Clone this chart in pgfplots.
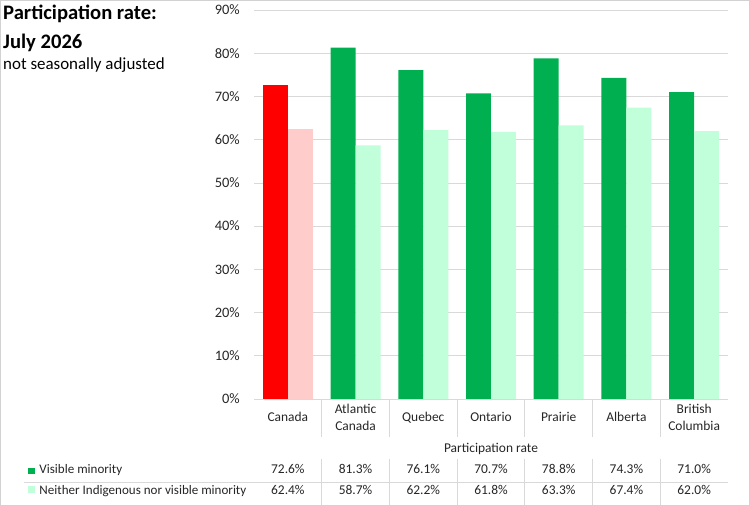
\documentclass[border=0pt]{standalone}
\usepackage{fontspec}
\setmainfont{Carlito}
\usepackage{pgfplots}
\pgfplotsset{compat=1.18}
\definecolor{vm}{RGB}{0,176,80}
\definecolor{nvm}{RGB}{193,255,218}
\definecolor{cred}{RGB}{255,0,0}
\definecolor{cpink}{RGB}{255,204,204}
\definecolor{gridc}{RGB}{217,217,217}
\definecolor{txt}{RGB}{38,38,38}
\newcommand{\lab}{\fontsize{13.5}{16}\selectfont}
\begin{document}
\begin{tikzpicture}
\useasboundingbox (0,0) rectangle (750bp,506bp);
\draw[gray!35, line width=1bp] (0.5bp,0.5bp) rectangle (749.5bp,505.5bp);
\begin{axis}[
  at={(254bp,107bp)}, anchor=south west,
  scale only axis, width=474bp, height=389bp,
  xmin=-0.5, xmax=6.5, ymin=0, ymax=90,
  ytick={0,10,...,90}, xtick=\empty,
  ymajorgrids, grid style={draw=gridc, line width=0.75bp},
  axis line style={draw=none}, major tick length=0pt,
  /pgf/number format/assume math mode=true,
  yticklabel={\pgfmathprintnumber{\tick}\%},
  yticklabel style={font=\fontsize{14.5}{16}\selectfont, text=txt, anchor=east, inner sep=0pt, xshift=-14bp},
  clip=false,
]
\addplot[ybar, bar width=0.369, bar shift=-0.1846, fill=cred, draw=none] coordinates {(0,72.6)};
\addplot[ybar, bar width=0.369, bar shift=0.1846, fill=cpink, draw=none] coordinates {(0,62.4)};
\addplot[ybar, bar width=0.369, bar shift=-0.1846, fill=vm, draw=none] coordinates {(1,81.3) (2,76.1) (3,70.7) (4,78.8) (5,74.3) (6,71.0)};
\addplot[ybar, bar width=0.369, bar shift=0.1846, fill=nvm, draw=none] coordinates {(1,58.7) (2,62.2) (3,61.8) (4,63.3) (5,67.4) (6,62.0)};
\end{axis}
\begin{scope}[x=1bp, y=1bp]
  % title
  \node[anchor=base west, inner sep=0pt, text=black] at (3,486) {\fontsize{20.7}{22}\selectfont\bfseries Participation rate:};
  \node[anchor=base west, inner sep=0pt, text=black] at (3,457.7) {\fontsize{20.7}{22}\selectfont\bfseries July 2026};
  \node[anchor=base west, inner sep=0pt, text=black] at (3,436) {\fontsize{17}{19}\selectfont not seasonally adjusted};
  % separators
  \foreach \x in {321.71,389.43,457.14,524.86,592.57,660.29} {
    \draw[gridc, line width=0.75bp] (\x,107) -- (\x,69);
    \draw[gridc, line width=0.75bp] (\x,47) -- (\x,1);
  }
  \draw[gridc, line width=0.75bp] (24,24) -- (728,24);
  % category labels
  \begin{scope}[every node/.style={anchor=base, inner sep=0pt, text=txt, font=\lab}]
    \node at (287.86,84.3) {Canada};
    \node at (355.57,92.7) {Atlantic};
    \node at (355.57,76) {Canada};
    \node at (423.29,84.3) {Quebec};
    \node at (491,84.3) {Ontario};
    \node at (558.71,84.3) {Prairie};
    \node at (626.43,84.3) {Alberta};
    \node at (694.14,92.7) {British};
    \node at (694.14,76) {Columbia};
    \node at (491,53.7) {Participation rate};
    % row 1
    \node at (287.86,32.3) {72.6\%};
    \node at (355.57,32.3) {81.3\%};
    \node at (423.29,32.3) {76.1\%};
    \node at (491,32.3) {70.7\%};
    \node at (558.71,32.3) {78.8\%};
    \node at (626.43,32.3) {74.3\%};
    \node at (694.14,32.3) {71.0\%};
    % row 2
    \node at (287.86,11.2) {62.4\%};
    \node at (355.57,11.2) {58.7\%};
    \node at (423.29,11.2) {62.2\%};
    \node at (491,11.2) {61.8\%};
    \node at (558.71,11.2) {63.3\%};
    \node at (626.43,11.2) {67.4\%};
    \node at (694.14,11.2) {62.0\%};
    \node[anchor=base west, font=\fontsize{13.1}{16}\selectfont] at (39.3,32.3) {Visible minority};
    \node[anchor=base west, font=\fontsize{13.1}{16}\selectfont] at (39.3,11.2) {Neither Indigenous nor visible minority};
  \end{scope}
  \fill[vm] (28,31.7) rectangle (35,38.3);
  \fill[nvm] (28,13.3) rectangle (35,20);
\end{scope}
\end{tikzpicture}
\end{document}
